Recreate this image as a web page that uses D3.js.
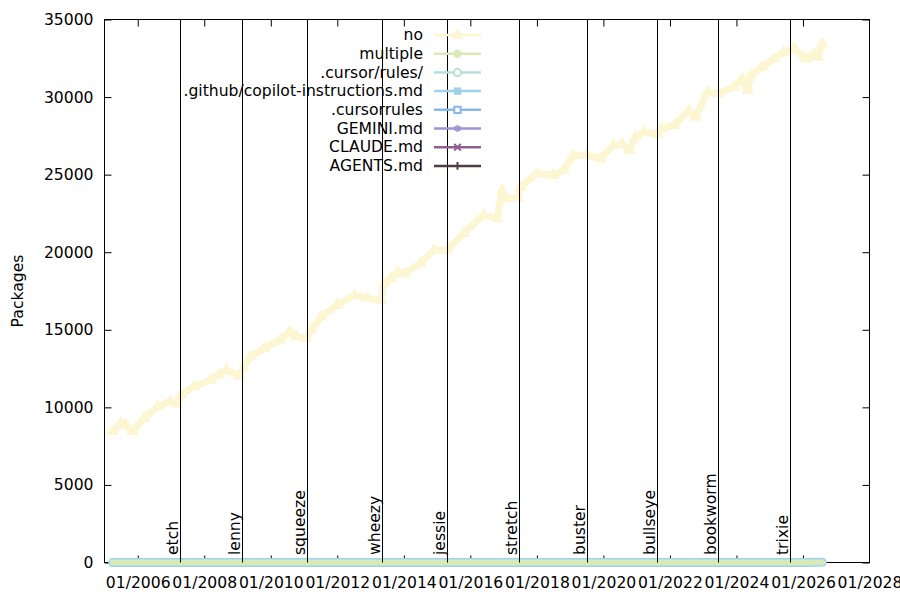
<!DOCTYPE html>
<html>
<head>
<meta charset="utf-8">
<script src="https://cdn.jsdelivr.net/npm/d3@7"></script>
<style>
    body { margin: 0; background: white; }
    text { font-family: "DejaVu Sans", sans-serif; font-size: 15.6px; fill: black; }
</style>
</head>
<body>
<script>
// Series names, in legend order.
var seriesNames = ["no", "multiple", ".cursor/rules/", ".github/copilot-instructions.md",
    ".cursorrules", "GEMINI.md", "CLAUDE.md", "AGENTS.md"];

// Packages without any agent file.
var noDates = ["2005-04-01", "2005-07-01", "2005-08-20", "2005-11-05", "2006-03-15", "2006-08-10",
    "2006-12-20", "2007-03-10", "2007-04-20", "2007-09-10", "2008-03-10", "2008-06-15",
    "2008-08-30", "2009-01-20", "2009-02-28", "2009-05-25", "2009-10-20", "2010-04-20",
    "2010-07-25", "2010-10-10", "2011-01-25", "2011-03-20", "2011-07-10", "2012-01-01",
    "2012-07-10", "2012-12-01", "2013-04-25", "2013-06-01", "2013-08-10", "2013-10-25",
    "2014-01-01", "2014-07-01", "2014-11-25", "2015-04-20", "2015-10-20", "2016-05-25",
    "2016-10-20", "2016-12-15", "2017-02-05", "2017-06-10", "2017-07-01", "2018-01-01",
    "2018-07-01", "2018-10-20", "2019-02-05", "2019-07-01", "2019-12-01", "2020-04-20",
    "2020-07-25", "2020-10-10", "2020-12-20", "2021-03-20", "2021-08-20", "2021-09-25",
    "2022-02-15", "2022-07-30", "2022-10-10", "2023-02-15", "2023-06-05", "2023-12-05",
    "2024-03-05", "2024-05-01", "2024-06-05", "2024-10-10", "2025-02-15", "2025-06-05",
    "2025-09-25", "2026-02-01", "2026-05-05", "2026-06-10", "2026-08-01"];
var noValues = [8450, 8990, 8880, 8450, 9310, 10060,
    10380, 10230, 10810, 11340, 11770, 12100,
    12420, 12030, 12530, 13270, 13810, 14350,
    14880, 14560, 14460, 14990, 15850, 16600,
    17240, 17030, 16920, 18000, 18320, 18740,
    18600, 19280, 20140, 20140, 21210, 22390,
    22180, 24000, 23470, 23470, 24210, 25070,
    24960, 25280, 26250, 26250, 26040, 26890,
    27000, 26570, 27430, 27750, 27600, 27970,
    28180, 29150, 28720, 30320, 30220, 30650,
    31190, 30430, 31400, 31930, 32470, 32900,
    33120, 32470, 32790, 32580, 33440];

// Packages with agent files (all close to zero).
var agentDates = ["2005-04-01", "2024-06-01", "2025-01-01", "2025-06-01", "2026-01-01", "2026-08-01"];
var multipleValues = [0, 0, 0, 2, 6, 12];
var cursorRulesDirValues = [0, 0, 0, 1, 3, 5];
var copilotValues = [0, 0, 1, 3, 8, 15];
var cursorrulesValues = [0, 0, 1, 2, 3, 4];
var geminiValues = [0, 0, 0, 1, 4, 9];
var claudeValues = [0, 0, 0, 3, 12, 25];
var agentsValues = [0, 0, 0, 2, 10, 20];

// Debian releases.
var releaseNames = ["etch", "lenny", "squeeze", "wheezy", "jessie", "stretch",
    "buster", "bullseye", "bookworm", "trixie"];
var releaseDates = ["2007-04-08", "2009-02-14", "2011-02-06", "2013-05-04", "2015-04-25",
    "2017-06-17", "2019-07-06", "2021-08-14", "2023-06-10", "2025-08-09"];

// Axis ticks.
var yTicks = [0, 5000, 10000, 15000, 20000, 25000, 30000, 35000];
var xTickYears = [2006, 2008, 2010, 2012, 2014, 2016, 2018, 2020, 2022, 2024, 2026, 2028];

// Styles.
var colors = ["#fcf6d2", "#d9eab8", "#b6e0d9", "#9fd1ec", "#8ab8ea", "#a193d1", "#8d5f8d", "#4e3e3e"];
var symbols = [d3.symbolTriangle, d3.symbolCircle, d3.symbolCircle, d3.symbolSquare,
    d3.symbolSquare, d3.symbolAsterisk, d3.symbolX, d3.symbolPlus];
var symbolSizes = [70, 55, 40, 55, 40, 35, 30, 22];
var filled = [true, true, false, true, false, false, false, false];

// Define internal variables.
var parseDate = d3.timeParse("%Y-%m-%d");
var width = 900, height = 600;
var plotLeft = 104.5, plotRight = 869.5, plotTop = 19.5, plotBottom = 562.5;

var agentSeries = [multipleValues, cursorRulesDirValues, copilotValues, cursorrulesValues,
    geminiValues, claudeValues, agentsValues];

var x = d3.scaleTime()
        .domain([new Date(2005, 0, 1), new Date(2028, 0, 1)])
        .range([plotLeft, plotRight]);
var y = d3.scaleLinear()
        .domain([0, 35000])
        .range([plotBottom, plotTop]);

var svg = d3.select("body").append("svg")
        .attr("width", width)
        .attr("height", height);

// Axes, ticks mirrored inward on all four sides.
var xTicks = xTickYears.map(function(yr) { return new Date(yr, 0, 1); });
svg.append("g")
        .attr("transform", "translate(0," + plotBottom + ")")
        .call(d3.axisBottom(x).tickValues(xTicks).tickFormat(d3.timeFormat("%m/%Y"))
            .tickSizeInner(-7).tickSizeOuter(0).tickPadding(14));
svg.append("g")
        .attr("transform", "translate(0," + plotTop + ")")
        .call(d3.axisTop(x).tickValues(xTicks).tickFormat("").tickSizeInner(-7).tickSizeOuter(0));
svg.append("g")
        .attr("transform", "translate(" + plotLeft + ",0)")
        .call(d3.axisLeft(y).tickValues(yTicks).tickFormat(d3.format("d"))
            .tickSizeInner(-7).tickSizeOuter(0).tickPadding(11));
svg.append("g")
        .attr("transform", "translate(" + plotRight + ",0)")
        .call(d3.axisRight(y).tickValues(yTicks).tickFormat("").tickSizeInner(-7).tickSizeOuter(0));
svg.selectAll(".domain").remove();
svg.selectAll(".tick line").attr("stroke", "black");
svg.selectAll(".tick text")
        .style("font-family", "DejaVu Sans")
        .style("font-size", "15.6px")
        .attr("fill", "black");
svg.selectAll(".tick")
        .filter(function(d) { return d instanceof Date && d.getFullYear() === 2028; })
        .select("line").remove();

svg.append("rect")
        .attr("x", plotLeft)
        .attr("y", plotTop)
        .attr("width", plotRight - plotLeft)
        .attr("height", plotBottom - plotTop)
        .attr("fill", "none")
        .attr("stroke", "black");

svg.append("text")
        .attr("transform", "translate(23,291) rotate(-90)")
        .attr("text-anchor", "middle")
        .text("Packages");

// Draw the near-zero series (reverse order, widest first so the light ones sit on top).
var line = d3.line()
        .x(function(d) { return x(d.date); })
        .y(function(d) { return y(d.value); });
var bandWidths = [5, 7, 9, 7, 3, 3, 3];
for (var i = agentSeries.length - 1; i >= 0; i--) {
    var pts = agentDates.map(function(dt, j) { return {date: parseDate(dt), value: agentSeries[i][j]}; });
    svg.append("path")
            .datum(pts)
            .attr("fill", "none")
            .attr("stroke", colors[i + 1])
            .attr("stroke-width", bandWidths[i])
            .attr("stroke-linecap", "round")
            .attr("d", line);
}

// Draw the "no" series.
var noPts = noDates.map(function(dt, j) { return {date: parseDate(dt), value: noValues[j]}; });
svg.append("path")
        .datum(noPts)
        .attr("fill", "none")
        .attr("stroke", colors[0])
        .attr("stroke-width", 7)
        .attr("stroke-linejoin", "round")
        .attr("d", line);
svg.selectAll(".noMark")
        .data(noPts)
        .enter().append("path")
        .attr("class", "noMark")
        .attr("transform", function(d) { return "translate(" + x(d.date) + "," + y(d.value) + ")"; })
        .attr("d", d3.symbol().type(d3.symbolTriangle).size(70))
        .attr("fill", colors[0]);

// Release lines and labels.
releaseDates.forEach(function(dt, k) {
    var rx = Math.round(x(parseDate(dt))) + 0.5;
    svg.append("line")
            .attr("x1", rx).attr("x2", rx)
            .attr("y1", plotTop).attr("y2", plotBottom)
            .attr("stroke", "black");
    svg.append("text")
            .attr("transform", "translate(" + (rx - 3) + ",555) rotate(-90)")
            .text(releaseNames[k]);
});

// Legend.
var legend = svg.append("g");
seriesNames.forEach(function(name, k) {
    var cy = 35 + k * 18.7;
    legend.append("text")
            .attr("x", 423)
            .attr("y", cy)
            .attr("dy", "0.33em")
            .attr("text-anchor", "end")
            .text(name);
    legend.append("line")
            .attr("x1", 434).attr("x2", 481)
            .attr("y1", cy).attr("y2", cy)
            .attr("stroke", colors[k])
            .attr("stroke-width", 2.5);
    legend.append("path")
            .attr("transform", "translate(457.5," + cy + ")")
            .attr("d", d3.symbol().type(symbols[k]).size(symbolSizes[k]))
            .attr("fill", filled[k] ? colors[k] : "white")
            .attr("stroke", colors[k])
            .attr("stroke-width", filled[k] ? 0 : 2);
});
</script>
</body>
</html>
